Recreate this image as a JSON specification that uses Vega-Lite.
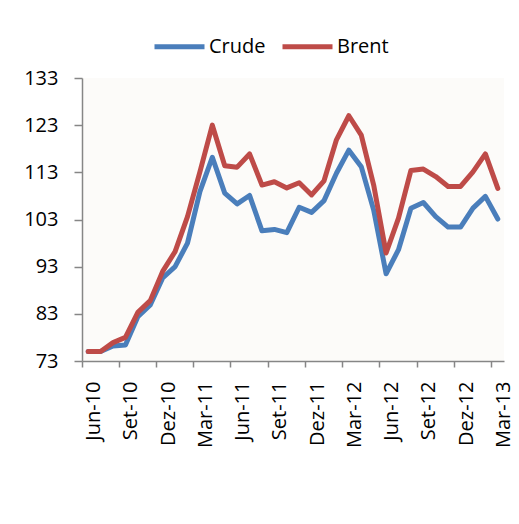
{
  "$schema": "https://vega.github.io/schema/vega-lite/v6.json",
  "width": 422,
  "height": 283,
  "autosize": {"type": "none"},
  "padding": {"left": 82, "top": 78, "right": 15, "bottom": 163},
  "background": "#ffffff",
  "config": {
    "font": "Open Sans",
    "view": {"fill": "#fcfbf9", "stroke": null},
    "axis": {
      "labelFont": "Open Sans",
      "labelFontSize": 20,
      "labelColor": "#000000",
      "domainColor": "#868686",
      "domainWidth": 1.5,
      "tickColor": "#868686",
      "tickWidth": 1.5,
      "grid": false,
      "title": null
    },
    "legend": {
      "labelFont": "Open Sans",
      "labelFontSize": 20,
      "labelColor": "#000000"
    }
  },
  "data": {
    "values": [
      {"m": "Jun-10", "Crude": 75.0, "Brent": 75.0},
      {"m": "Jul-10", "Crude": 75.0, "Brent": 75.0},
      {"m": "Ago-10", "Crude": 76.2, "Brent": 76.9},
      {"m": "Set-10", "Crude": 76.4, "Brent": 78.0},
      {"m": "Out-10", "Crude": 82.4, "Brent": 83.3},
      {"m": "Nov-10", "Crude": 84.9, "Brent": 85.8},
      {"m": "Dez-10", "Crude": 90.6, "Brent": 92.0},
      {"m": "Jan-11", "Crude": 93.0, "Brent": 96.2},
      {"m": "Fev-11", "Crude": 98.0, "Brent": 103.6},
      {"m": "Mar-11", "Crude": 108.9, "Brent": 113.1},
      {"m": "Abr-11", "Crude": 116.2, "Brent": 123.0},
      {"m": "Mai-11", "Crude": 108.6, "Brent": 114.4},
      {"m": "Jun-11", "Crude": 106.3, "Brent": 114.1},
      {"m": "Jul-11", "Crude": 108.1, "Brent": 116.9},
      {"m": "Ago-11", "Crude": 100.6, "Brent": 110.3},
      {"m": "Set-11", "Crude": 100.9, "Brent": 111.0},
      {"m": "Out-11", "Crude": 100.2, "Brent": 109.7},
      {"m": "Nov-11", "Crude": 105.6, "Brent": 110.8},
      {"m": "Dez-11", "Crude": 104.5, "Brent": 108.2},
      {"m": "Jan-12", "Crude": 107.0, "Brent": 111.2},
      {"m": "Fev-12", "Crude": 112.8, "Brent": 119.9},
      {"m": "Mar-12", "Crude": 117.7, "Brent": 125.0},
      {"m": "Abr-12", "Crude": 114.2, "Brent": 120.9},
      {"m": "Mai-12", "Crude": 105.0, "Brent": 110.3},
      {"m": "Jun-12", "Crude": 91.5, "Brent": 95.9},
      {"m": "Jul-12", "Crude": 96.6, "Brent": 103.3},
      {"m": "Ago-12", "Crude": 105.4, "Brent": 113.4},
      {"m": "Set-12", "Crude": 106.6, "Brent": 113.7},
      {"m": "Out-12", "Crude": 103.6, "Brent": 112.1},
      {"m": "Nov-12", "Crude": 101.4, "Brent": 110.0},
      {"m": "Dez-12", "Crude": 101.4, "Brent": 110.0},
      {"m": "Jan-13", "Crude": 105.4, "Brent": 113.1},
      {"m": "Fev-13", "Crude": 107.9, "Brent": 116.9},
      {"m": "Mar-13", "Crude": 103.1, "Brent": 109.6}
    ]
  },
  "transform": [
    {"fold": ["Crude", "Brent"], "as": ["serie", "valor"]}
  ],
  "mark": {"type": "line", "strokeWidth": 5, "strokeCap": "round", "strokeJoin": "round"},
  "encoding": {
    "x": {
      "field": "m",
      "type": "ordinal",
      "sort": null,
      "bandPosition": 0.5,
      "scale": {"type": "band", "paddingInner": 0, "paddingOuter": 0},
      "axis": {
        "values": ["Jun-10", "Set-10", "Dez-10", "Mar-11", "Jun-11", "Set-11", "Dez-11", "Mar-12", "Jun-12", "Set-12", "Dez-12", "Mar-13"],
        "bandPosition": 0,
        "labelAngle": -90,
        "labelAlign": "right",
        "labelBaseline": "middle",
        "labelOffset": 6,
        "tickSize": 6,
        "labelPadding": 14
      }
    },
    "y": {
      "field": "valor",
      "type": "quantitative",
      "scale": {"domain": [73, 133], "nice": false, "zero": false},
      "axis": {
        "values": [73, 83, 93, 103, 113, 123, 133],
        "tickSize": 8,
        "labelPadding": 16
      }
    },
    "color": {
      "field": "serie",
      "type": "nominal",
      "scale": {"domain": ["Crude", "Brent"], "range": ["#4a7ebb", "#be4b48"]},
      "legend": {
        "title": null,
        "orient": "none",
        "direction": "horizontal",
        "legendX": 70,
        "legendY": -59,
        "padding": 0,
        "symbolType": "stroke",
        "symbolSize": 2500,
        "symbolStrokeWidth": 5,
        "labelOffset": 2,
        "columnPadding": 6
      }
    }
  }
}
